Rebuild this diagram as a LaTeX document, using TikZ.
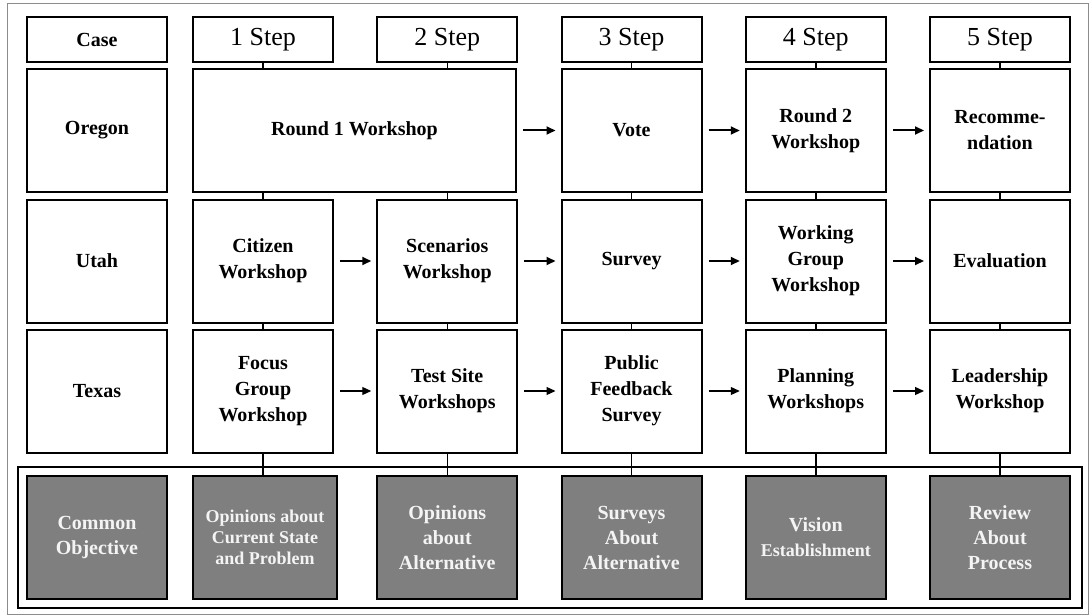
\documentclass[tikz,border=0pt]{standalone}
\usepackage{fontspec}
\setmainfont{Liberation Serif}
\usetikzlibrary{arrows.meta,positioning}
\definecolor{FrameGray}{RGB}{140,140,140}
\definecolor{GoalGray}{RGB}{127,127,127}
\definecolor{GoalText}{RGB}{244,244,244}
\tikzset{
  headbox/.style={draw,line width=2pt,minimum width=140pt,minimum height=45pt,
    inner sep=0pt,font=\fontsize{26}{28}\selectfont},
  casebox/.style={headbox,font=\bfseries\fontsize{20}{24}\selectfont},
  stagebox/.style={draw,line width=2pt,minimum width=140pt,minimum height=123pt,
    inner sep=2pt,align=center,font=\bfseries\fontsize{20}{26}\selectfont},
  goalbox/.style={stagebox,fill=GoalGray,text=GoalText,
    font=\bfseries\fontsize{20}{25}\selectfont},
  flow/.style={-{Triangle[length=9pt,width=8pt]},line width=2pt,
    shorten <=6pt,shorten >=5pt},
  thinflow/.style={flow,line width=1.2pt},
  link/.style={line width=1.5pt}
}

\begin{document}
\begin{tikzpicture}[x=1pt,y=-1pt]
  \useasboundingbox (0,0) rectangle (1089,615);
  \draw[FrameGray,line width=1pt] (7,4) rectangle (1088.5,614.5);

  % header row
  \node[casebox] (case) at (97,39.5) {Case};
  \node[headbox] (h1) at (263,39.5) {1 Step};
  \node[headbox] (h2) at (447.25,39.5) {2 Step};
  \node[headbox] (h3) at (631.5,39.5) {3 Step};
  \node[headbox] (h4) at (815.75,39.5) {4 Step};
  \node[headbox] (h5) at (1000,39.5) {5 Step};

  % Oregon
  \node[stagebox] (oregon) at (97,130.5) {Oregon};
  \node[stagebox,minimum width=323pt] (round1) at (354.5,130.5) {Round 1 Workshop};
  \node[stagebox] (vote) at (631.5,130.5) {Vote};
  \node[stagebox] (round2) at (815.75,130.5) {Round 2\\Workshop};
  \node[stagebox] (recom) at (1000,130.5) {Recomme-\\ndation};

  % Utah
  \node[stagebox] (utah) at (97,261) {Utah};
  \node[stagebox] (citizen) at (263,261) {Citizen\\Workshop};
  \node[stagebox] (scenario) at (447.25,261) {Scenarios\\Workshop};
  \node[stagebox] (survey) at (631.5,261) {Survey};
  \node[stagebox] (working) at (815.75,261) {Working\\Group\\Workshop};
  \node[stagebox] (evaluation) at (1000,261) {Evaluation};

  % Texas
  \node[stagebox] (texas) at (97,391) {Texas};
  \node[stagebox] (focus) at (263,391) {Focus\\Group\\Workshop};
  \node[stagebox] (testsite) at (447.25,391) {Test Site\\Workshops};
  \node[stagebox] (public) at (631.5,391) {Public\\Feedback\\Survey};
  \node[stagebox] (planning) at (815.75,391) {Planning\\Workshops};
  \node[stagebox] (leader) at (1000,391) {Leadership\\Workshop};

  % common objectives
  \node[draw,line width=2pt,minimum width=1064pt,minimum height=141pt] (goalframe) at (550,537.5) {};
  \node[goalbox] (common) at (97,537.5) {Common\\Objective};
  \node[goalbox,minimum width=144pt,font=\bfseries\fontsize{18}{21}\selectfont] (opinion1) at (265,537.5)
    {Opinions about\\Current State\\and Problem};
  \node[goalbox] (opinion2) at (447.25,537.5) {Opinions\\about\\Alternative};
  \node[goalbox] (surveys) at (631.5,537.5) {Surveys\\About\\Alternative};
  \node[goalbox] (vision) at (815.75,537.5)
    {Vision\\{\fontsize{18}{22}\selectfont Establishment}};
  \node[goalbox] (review) at (1000,537.5) {Review\\About\\Process};

  % vertical links
  \draw[link] (h1.south) -- (h1.south |- round1.north);
  \draw[link] (h2.south) -- (h2.south |- round1.north);
  \draw[link] (h3) -- (vote);
  \draw[link] (h4) -- (round2);
  \draw[link] (h5) -- (recom);
  \draw[link] (citizen.north |- round1.south) -- (citizen.north);
  \draw[link] (scenario.north |- round1.south) -- (scenario.north);
  \draw[link] (vote) -- (survey);
  \draw[link] (round2) -- (working);
  \draw[link] (recom) -- (evaluation);
  \foreach \a/\b in {citizen/focus,scenario/testsite,survey/public,
      working/planning,evaluation/leader}
    \draw[link] (\a) -- (\b);
  \draw[link] (focus.south) -- (focus.south |- opinion1.north);
  \foreach \a/\b in {testsite/opinion2,public/surveys,planning/vision,leader/review}
    \draw[link] (\a) -- (\b);

  % step arrows
  \draw[flow] (round1) -- (vote);
  \draw[flow] (vote) -- (round2);
  \draw[flow] (round2) -- (recom);
  \draw[flow] (citizen) -- (scenario);
  \draw[flow] (scenario) -- (survey);
  \draw[flow] (survey) -- (working);
  \draw[flow] (working) -- (evaluation);
  \draw[thinflow] (focus) -- (testsite);
  \draw[thinflow] (testsite) -- (public);
  \draw[thinflow] (public) -- (planning);
  \draw[thinflow] (planning) -- (leader);
\end{tikzpicture}
\end{document}
